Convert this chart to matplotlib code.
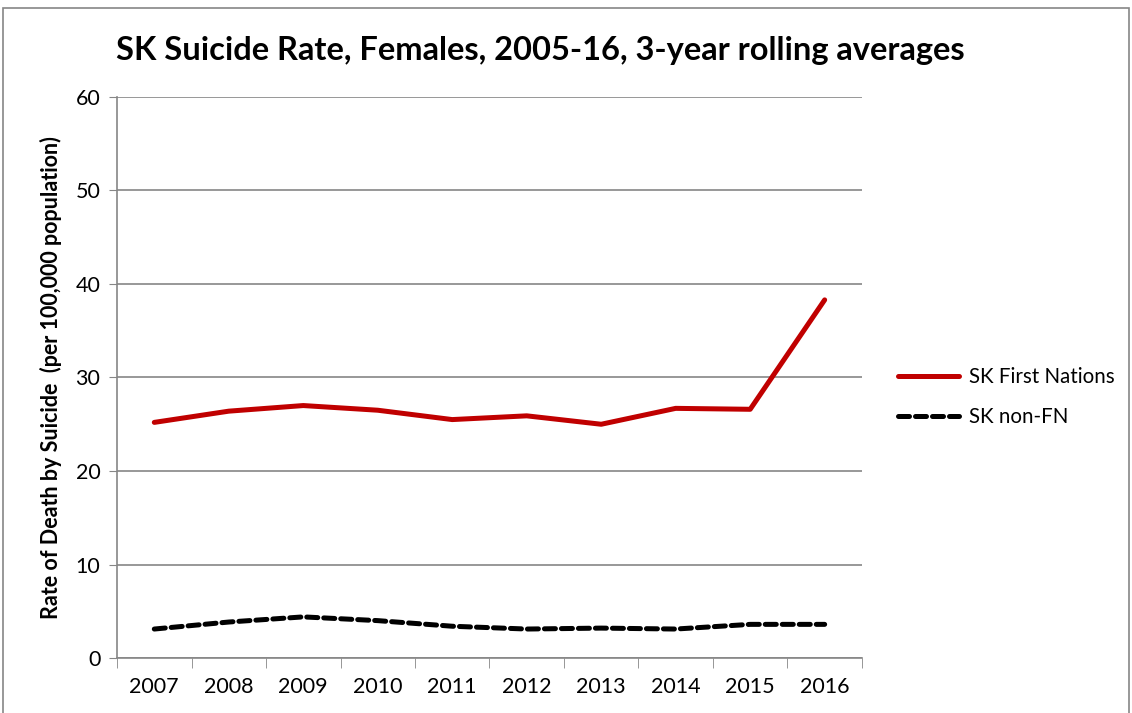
import matplotlib; matplotlib.use("Agg")
import matplotlib.pyplot as plt
from matplotlib.patches import Rectangle

plt.rcParams["font.family"] = ["Lato", "DejaVu Sans"]

years = ["2007", "2008", "2009", "2010", "2011", "2012", "2013", "2014", "2015", "2016"]
first_nations = [25.2, 26.4, 27.0, 26.5, 25.5, 25.9, 25.0, 26.7, 26.6, 38.3]
non_fn = [3.1, 3.85, 4.4, 4.0, 3.4, 3.1, 3.2, 3.1, 3.6, 3.6]

fig = plt.figure(figsize=(11.32, 7.13), dpi=100)
ax = fig.add_axes([0.1034, 0.0771, 0.658, 0.7869])
x = range(len(years))
ax.plot(x, first_nations, color="#C00000", lw=3.6, solid_capstyle="round", solid_joinstyle="round", label="SK First Nations")
ax.plot(x, non_fn, color="black", lw=3.6, ls=(0, (2.2, 1.2)), dash_capstyle="round", label="SK non-FN")

ax.set_xlim(-0.5, len(years) - 0.5); ax.set_ylim(0, 60)
ax.set_yticks(range(0, 61, 10))
ax.set_xticks(list(x)); ax.set_xticklabels(years)
ax.set_xticks([i - 0.5 for i in range(len(years) + 1)], minor=True)
ax.tick_params(axis="x", which="major", length=0, pad=14, labelsize=15.5)
ax.tick_params(axis="x", which="minor", length=7, color="#868686", direction="out")
ax.tick_params(axis="y", length=6, color="#868686", labelsize=15.5, pad=6)
ax.grid(axis="y", color="#868686", lw=1.2); ax.set_axisbelow(True)
for sp in ("top", "right"): ax.spines[sp].set_visible(False)
for sp in ("left", "bottom"): ax.spines[sp].set_color("#868686"); ax.spines[sp].set_linewidth(1.2)
ax.set_ylabel("Rate of Death by Suicide  (per 100,000 population)", fontsize=15.5, fontweight="bold", labelpad=10)
fig.text(0.477, 0.929, "SK Suicide Rate, Females, 2005-16, 3-year rolling averages", ha="center", va="center",
         fontsize=23.5, fontweight="bold")
ax.legend(loc="center left", bbox_to_anchor=(1.023, 0.465), frameon=False, fontsize=14.8, handlelength=3.0,
          labelspacing=1.0, handletextpad=0.5)
fig.patches.append(Rectangle((0.003, -0.05), 0.994, 1.039, transform=fig.transFigure, fill=False,
                             edgecolor="#868686", lw=1.2))
fig.savefig("out.png", dpi=100, facecolor="white")
